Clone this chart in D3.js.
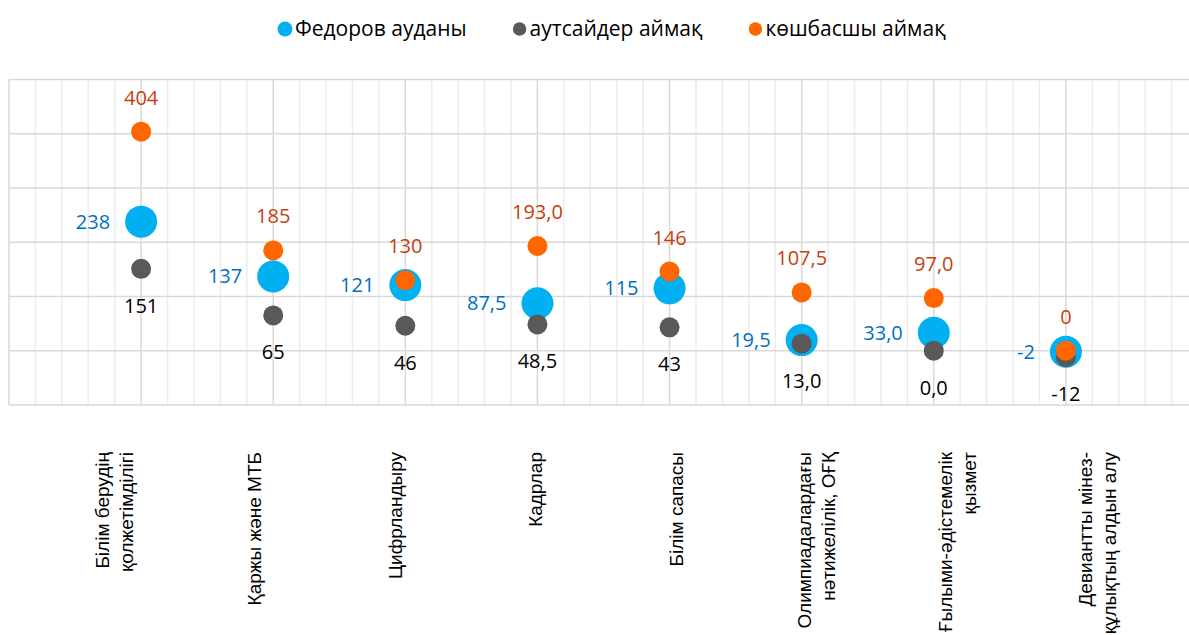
<!DOCTYPE html>
<html>
<head>
<meta charset="utf-8">
<script src="https://cdn.jsdelivr.net/npm/d3@7"></script>
<style>
  html, body { margin: 0; padding: 0; background: #fff; }
  svg { display: block; }
</style>
</head>
<body>
<svg id="chart" width="1189" height="635"></svg>
<script>
// Indicator groups (each entry is one line of the rotated axis label)
const categories = [
  ["Білім берудің", "қолжетімділігі"],
  ["Қаржы және МТБ"],
  ["Цифрландыру"],
  ["Кадрлар"],
  ["Білім сапасы"],
  ["Олимпиадалардағы", "нәтижелілік, ОҒҚ"],
  ["Ғылыми-әдістемелік", "қызмет"],
  ["Девиантты мінез-", "құлықтың алдын алу"]
];

const seriesNames = ["Федоров ауданы", "аутсайдер аймақ", "көшбасшы аймақ"];

const fedorov  = [238, 137, 121, 87.5, 115, 19.5, 33.0, -2];
const outsider = [151, 65, 46, 48.5, 43, 13.0, 0.0, -12];
const leader   = [404, 185, 130, 193.0, 146, 107.5, 97.0, 0];

// decimals shown in each data label
const fedorovDecimals  = [0, 0, 0, 1, 0, 1, 1, 0];
const outsiderDecimals = [0, 0, 0, 1, 0, 1, 1, 0];
const leaderDecimals   = [0, 0, 0, 1, 0, 1, 1, 0];

const yTicks = [-100, 0, 100, 200, 300, 400, 500];

const W = 1189, H = 635;
const svg = d3.select("#chart");

const x = d3.scaleLinear().domain([0, categories.length + 1]).range([9, 1198]);
const y = d3.scaleLinear().domain([-100, 500]).range([404.9, 79.6]);
const labelX = d3.scalePoint().domain(d3.range(categories.length)).range([44, 1168]).padding(0.5);

const fmt = (v, dec) => d3.format("." + dec + "f")(v).replace(".", ",").replace("\u2212", "-");

const DATA_FONT = "'Open Sans', 'Noto Sans', sans-serif";

// ---- grid ----
const grid = svg.append("g");
const minorStep = 0.2;
const minorTicks = d3.range(0, categories.length + 1 + 1e-9, minorStep)
  .filter(v => Math.abs(v - Math.round(v)) > 1e-6);
grid.selectAll("line.minor").data(minorTicks).join("line")
  .attr("x1", d => x(d)).attr("x2", d => x(d))
  .attr("y1", y(500)).attr("y2", y(-100))
  .attr("stroke", "#ececec").attr("stroke-width", 1.5);
grid.selectAll("line.major").data(d3.range(0, categories.length + 2)).join("line")
  .attr("x1", d => x(d)).attr("x2", d => x(d))
  .attr("y1", y(500)).attr("y2", y(-100))
  .attr("stroke", "#d9d9d9").attr("stroke-width", 1.5);
grid.selectAll("line.h").data(yTicks).join("line")
  .attr("x1", x(0)).attr("x2", W)
  .attr("y1", d => y(d)).attr("y2", d => y(d))
  .attr("stroke", "#d9d9d9").attr("stroke-width", 1.5);

// ---- points ----
const series = [
  { values: fedorov,  dec: fedorovDecimals,  color: "#00b0f0", r: 16, label: "#0070c0", pos: "left" },
  { values: outsider, dec: outsiderDecimals, color: "#595959", r: 10, label: "#000000", pos: "below" },
  { values: leader,   dec: leaderDecimals,   color: "#ff6600", r: 10, label: "#c5400f", pos: "above" }
];

series.forEach(s => {
  svg.append("g").selectAll("circle").data(s.values).join("circle")
    .attr("cx", (d, i) => x(i + 1))
    .attr("cy", d => y(d))
    .attr("r", s.r)
    .attr("fill", s.color);
});

// ---- data labels ----
series.forEach(s => {
  const g = svg.append("g")
    .attr("font-family", DATA_FONT)
    .attr("font-size", 20)
    .attr("fill", s.label);
  g.selectAll("text").data(s.values).join("text")
    .attr("x", (d, i) => s.pos === "left" ? x(i + 1) - 31 : x(i + 1))
    .attr("y", d => s.pos === "left" ? y(d) : s.pos === "above" ? y(d) - 34 : y(d) + 37)
    .attr("dy", "0.35em")
    .attr("text-anchor", s.pos === "left" ? "end" : "middle")
    .text((d, i) => fmt(d, s.dec[i]));
});

// ---- category labels (rotated) ----
const catG = svg.append("g")
  .attr("font-family", "'Liberation Sans', Arial, sans-serif")
  .attr("font-size", 19)
  .attr("fill", "#000");
categories.forEach((lines, i) => {
  const cx = labelX(i);
  const lh = 24;
  lines.forEach((line, j) => {
    const off = (j - (lines.length - 1) / 2) * lh;
    catG.append("text")
      .attr("transform", `translate(${cx + off},452) rotate(-90)`)
      .attr("text-anchor", "end")
      .attr("dy", "0.35em")
      .text(line);
  });
});

// ---- legend ----
const legend = svg.append("g")
  .attr("font-family", DATA_FONT)
  .attr("font-size", 21)
  .attr("fill", "#000");
const legendR = [7.5, 6.7, 6.7];
let lx = 285;
series.forEach((s, i) => {
  legend.append("circle").attr("cx", lx).attr("cy", 29).attr("r", legendR[i]).attr("fill", s.color);
  const t = legend.append("text").attr("x", lx + 10).attr("y", 29).attr("dy", "0.35em").text(seriesNames[i]);
  lx += 10 + t.node().getComputedTextLength() + 53;
});
</script>
</body>
</html>
